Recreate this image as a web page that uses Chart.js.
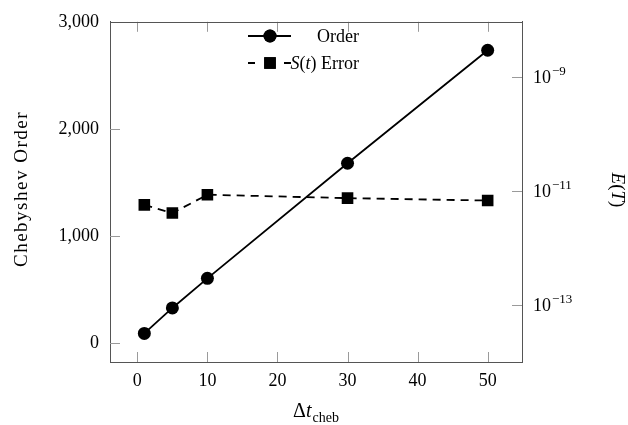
<!DOCTYPE html>
<html>
<head>
<meta charset="utf-8">
<script src="https://cdn.jsdelivr.net/npm/chart.js@4"></script>
<style>
  html, body { margin: 0; padding: 0; background: #fff; }
  #wrap { width: 628px; height: 425px; }
</style>
</head>
<body>
<div id="wrap"><canvas id="chart" width="628" height="425"></canvas></div>
<script>
// data
const dtCheb = [1, 5, 10, 30, 50];
const chebOrder = [92, 330, 607, 1682, 2738];
const errorValues = [5.7e-12, 4.1e-12, 8.6e-12, 7.5e-12, 6.8e-12];
const xTicks = [0, 10, 20, 30, 40, 50];
const orderTicks = [0, 1000, 2000, 3000];
const errorTicks = [1e-13, 1e-11, 1e-9];

const FONT = '"Liberation Serif", "DejaVu Serif", serif';

function fixTicks(values) {
    return function(scale) {
        scale.ticks = values.map(v => ({ value: v }));
    };
}

// tick marks (inward), top border, custom log labels, titles, legend
const decorations = {
    id: 'decorations',
    afterDraw(chart) {
        const ctx = chart.ctx;
        const area = chart.chartArea;
        const sx = chart.scales.x, sy = chart.scales.y, sy1 = chart.scales.y1;
        const tl = 10;
        ctx.save();

        ctx.strokeStyle = '#9a9a9a';
        ctx.lineWidth = 1;
        ctx.beginPath();
        xTicks.forEach(v => {
            const px = Math.round(sx.getPixelForValue(v)) + 0.5;
            ctx.moveTo(px, area.bottom); ctx.lineTo(px, area.bottom - tl);
            ctx.moveTo(px, area.top); ctx.lineTo(px, area.top + tl);
        });
        orderTicks.forEach(v => {
            const py = Math.round(sy.getPixelForValue(v)) + 0.5;
            ctx.moveTo(area.left, py); ctx.lineTo(area.left + tl, py);
        });
        errorTicks.forEach(v => {
            const py = Math.round(sy1.getPixelForValue(v)) + 0.5;
            ctx.moveTo(area.right, py); ctx.lineTo(area.right - tl, py);
        });
        ctx.stroke();

        // top border
        ctx.strokeStyle = '#555';
        ctx.beginPath();
        ctx.moveTo(area.left, Math.round(area.top) + 0.5);
        ctx.lineTo(area.right, Math.round(area.top) + 0.5);
        ctx.stroke();

        // right axis labels 10^{-n}
        ctx.fillStyle = '#000';
        ctx.textBaseline = 'alphabetic';
        ctx.textAlign = 'left';
        errorTicks.forEach(v => {
            const py = sy1.getPixelForValue(v);
            const x0 = area.right + 11;
            const exp = '\u2212' + Math.abs(Math.round(Math.log10(v)));
            ctx.font = '18px ' + FONT;
            ctx.fillText('10', x0, py + 6);
            const w = ctx.measureText('10').width;
            ctx.font = '13px ' + FONT;
            ctx.fillText(exp, x0 + w + 1, py - 2);
        });

        // left title
        ctx.save();
        ctx.translate(22, 189);
        ctx.rotate(-Math.PI / 2);
        ctx.font = '19px ' + FONT;
        ctx.letterSpacing = '1.5px';
        ctx.textAlign = 'center';
        ctx.textBaseline = 'middle';
        ctx.fillText('Chebyshev Order', 0, 0);
        ctx.restore();

        // right title E(T)
        ctx.save();
        ctx.translate(617, 190);
        ctx.rotate(Math.PI / 2);
        const parts = [['E', 'italic '], ['(', ''], ['T', 'italic '], [')', '']];
        let total = 0;
        parts.forEach(p => { ctx.font = p[1] + '19px ' + FONT; total += ctx.measureText(p[0]).width; });
        let cx = -total / 2;
        ctx.textAlign = 'left';
        ctx.textBaseline = 'middle';
        parts.forEach(p => {
            ctx.font = p[1] + '19px ' + FONT;
            ctx.fillText(p[0], cx, 0);
            cx += ctx.measureText(p[0]).width;
        });
        ctx.restore();

        // x title Δt_cheb
        ctx.textAlign = 'left';
        ctx.textBaseline = 'alphabetic';
        ctx.font = '20px ' + FONT;
        const wD = ctx.measureText('\u0394').width;
        ctx.font = 'italic 20px ' + FONT;
        const wT = ctx.measureText('t').width;
        ctx.font = '14px ' + FONT;
        const wS = ctx.measureText('cheb').width;
        let tx = 316 - (wD + wT + 1 + wS) / 2;
        ctx.font = '20px ' + FONT;
        ctx.fillText('\u0394', tx, 417);
        tx += wD;
        ctx.font = 'italic 20px ' + FONT;
        ctx.fillText('t', tx, 417);
        tx += wT + 1;
        ctx.font = '14px ' + FONT;
        ctx.fillText('cheb', tx, 422);

        // legend
        const ds = chart.data.datasets;
        const rows = [36, 63];
        ds.forEach((d, i) => {
            const y = rows[i];
            ctx.save();
            ctx.strokeStyle = d.borderColor;
            ctx.lineWidth = d.borderWidth;
            ctx.beginPath();
            if (d.borderDash) {
                ctx.moveTo(248, y); ctx.lineTo(255, y);
                ctx.moveTo(284, y); ctx.lineTo(291, y);
            } else {
                ctx.moveTo(248, y); ctx.lineTo(291, y);
            }
            ctx.stroke();
            ctx.restore();
            Chart.helpers.drawPoint(ctx, {
                pointStyle: d.pointStyle, radius: d.pointRadius, rotation: 0, borderWidth: 0
            }, 270, y);
            ctx.fillStyle = '#000';
            ctx.fill();
        });
        ctx.fillStyle = '#000';
        ctx.textAlign = 'right';
        ctx.textBaseline = 'alphabetic';
        ctx.font = '18px ' + FONT;
        ctx.fillText('Order', 359, 42);
        const wErr = ctx.measureText(' Error').width;
        ctx.fillText(' Error', 359, 69);
        let ex = 359 - wErr;
        ctx.fillText(')', ex, 69);
        ex -= ctx.measureText(')').width;
        ctx.font = 'italic 18px ' + FONT;
        ctx.fillText('t', ex, 69);
        ex -= ctx.measureText('t').width;
        ctx.font = '18px ' + FONT;
        ctx.fillText('(', ex, 69);
        ex -= ctx.measureText('(').width;
        ctx.font = 'italic 18px ' + FONT;
        ctx.fillText('S', ex, 69);

        ctx.restore();
    }
};

new Chart(document.getElementById('chart').getContext('2d'), {
    type: 'line',
    data: {
        datasets: [{
            label: 'Order',
            data: dtCheb.map((x, i) => ({ x: x, y: chebOrder[i] })),
            yAxisID: 'y',
            borderColor: '#000',
            backgroundColor: '#000',
            borderWidth: 1.8,
            pointStyle: 'circle',
            pointRadius: 6.5,
            pointBorderWidth: 0,
            tension: 0
        }, {
            label: 'S(t) Error',
            data: dtCheb.map((x, i) => ({ x: x, y: errorValues[i] })),
            yAxisID: 'y1',
            borderColor: '#000',
            backgroundColor: '#000',
            borderWidth: 1.8,
            borderDash: [8, 6],
            pointStyle: 'rect',
            pointRadius: 8.2,
            pointBorderWidth: 0,
            tension: 0
        }]
    },
    options: {
        responsive: false,
        animation: false,
        events: [],
        layout: { padding: { top: 21, left: 0, right: 0, bottom: 0 } },
        plugins: { legend: { display: false }, tooltip: { enabled: false } },
        scales: {
            x: {
                type: 'linear',
                min: -3.9,
                max: 54.9,
                afterBuildTicks: fixTicks(xTicks),
                afterFit: s => { s.height = 63; },
                grid: { display: false, drawTicks: false },
                border: { display: true, color: '#555', width: 1 },
                ticks: { color: '#000', padding: 8, font: { family: FONT, size: 18 } }
            },
            y: {
                type: 'linear',
                position: 'left',
                min: -175,
                max: 3004,
                afterBuildTicks: fixTicks(orderTicks),
                afterFit: s => { s.width = 110; },
                grid: { display: false, drawTicks: false },
                border: { display: true, color: '#555', width: 1 },
                ticks: {
                    color: '#000', padding: 11, font: { family: FONT, size: 18 },
                    callback: v => v.toLocaleString('en-US')
                }
            },
            y1: {
                type: 'logarithmic',
                position: 'right',
                min: 1e-14,
                max: 9.3e-9,
                afterBuildTicks: fixTicks(errorTicks),
                afterFit: s => { s.width = 106; },
                grid: { display: false, drawTicks: false },
                border: { display: true, color: '#555', width: 1 },
                ticks: { display: false }
            }
        }
    },
    plugins: [decorations]
});
</script>
</body>
</html>
